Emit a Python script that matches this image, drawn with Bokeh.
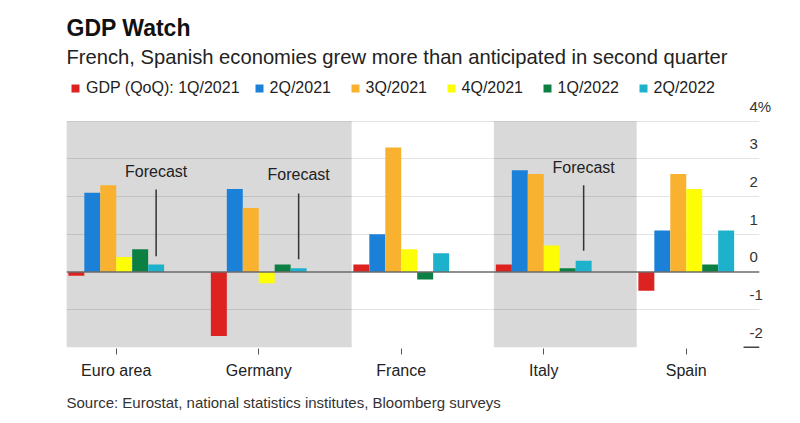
from bokeh.plotting import figure
from bokeh.models import ColumnDataSource, FixedTicker, Span, Legend, LegendItem, Label, Title
from bokeh.transform import dodge
from bokeh.core.properties import value
from bokeh.embed import file_html
from bokeh.resources import INLINE

# ---------------- data ----------------
categories = ["Euro area", "Germany", "France", "Italy", "Spain"]
series_labels = ["GDP (QoQ): 1Q/2021", "2Q/2021", "3Q/2021", "4Q/2021", "1Q/2022", "2Q/2022"]
q1_2021 = [-0.1, -1.7, 0.2, 0.2, -0.5]
q2_2021 = [2.1, 2.2, 1.0, 2.7, 1.1]
q3_2021 = [2.3, 1.7, 3.3, 2.6, 2.6]
q4_2021 = [0.4, -0.3, 0.6, 0.7, 2.2]
q1_2022 = [0.6, 0.2, -0.2, 0.1, 0.2]
q2_2022 = [0.2, 0.1, 0.5, 0.3, 1.1]
shaded_groups = ["Euro area", "Germany", "Italy"]
forecast_groups = ["Euro area", "Germany", "Italy"]
y_ticks = [-2, -1, 0, 1, 2, 3, 4]
y_tick_labels = ["-2", "-1", "0", "1", "2", "3", "4%"]

# ---------------- styles ----------------
colors = ["#dc2320", "#1b80d8", "#f8b22f", "#fdfd06", "#0c8043", "#1db1cb"]
FONT = "Liberation Sans"
bar_w = 0.112
label_shift = 0.4

series = [q1_2021, q2_2021, q3_2021, q4_2021, q1_2022, q2_2022]
keys = ["s%d" % k for k in range(len(series))]
data = {"x": list(range(len(categories))), "cat": categories}
for k, s in zip(keys, series):
    data[k] = s
source = ColumnDataSource(data)

p = figure(frame_width=693, frame_height=340,
           x_range=(-0.349, 4.514), y_range=(-2.03, 6.99),
           y_axis_location="right", toolbar_location=None,
           output_backend="svg", title=None,
           min_border_left=66, min_border_right=26,
           min_border_top=8, min_border_bottom=60)
p.outline_line_color = None
p.background_fill_color = "white"
p.border_fill_color = "white"

# shaded bands
idx = {c: i for i, c in enumerate(categories)}
band_src = ColumnDataSource(dict(
    left=[idx[c] - 0.35 for c in shaded_groups],
    right=[idx[c] + 0.652 for c in shaded_groups],
    bottom=[y_ticks[0]] * len(shaded_groups),
    top=[y_ticks[-1]] * len(shaded_groups)))
p.quad(left="left", right="right", bottom="bottom", top="top", source=band_src,
       fill_color="#d9d9d9", line_color=None, level="image")

# grid
p.xgrid.visible = False
p.ygrid.ticker = FixedTicker(ticks=[t for t in y_ticks if t not in (0, y_ticks[0])])
p.ygrid.grid_line_color = "black"
p.ygrid.grid_line_alpha = 0.11
p.ygrid.grid_line_width = 1

# bars
renderers = []
n = len(series)
for k, key in enumerate(keys):
    off = (k - (n - 1) / 2) * bar_w
    r = p.vbar(x=dodge("x", off, range=p.x_range), top=key, bottom=0, width=bar_w,
               source=source, fill_color=colors[k], line_color=None)
    renderers.append(r)

# zero line
p.add_layout(Span(location=0, dimension="width", line_color="#6a6a6a", line_width=1.5))

# short mark at bottom of scale
p.segment(x0=[p.x_range.end - 0.112], x1=[p.x_range.end], y0=[y_ticks[0]], y1=[y_ticks[0]],
          line_color="#444", line_width=1.5)

# forecast annotations
cyan_off = (n - 1 - (n - 1) / 2) * bar_w
fx = [idx[c] + cyan_off for c in forecast_groups]
f_text_y = [2.67, 2.58, 2.78]
f_line_top = [2.19, 2.08, 2.30]
f_line_bot = [0.42, 0.34, 0.56]
p.segment(x0=fx, x1=fx, y0=f_line_bot, y1=f_line_top, line_color="#333", line_width=1.5)
p.text(x=fx, y=f_text_y, text=["Forecast"] * len(fx), text_align="center",
       text_baseline="middle", text_font=value(FONT), text_font_size="16px",
       text_color="#222")

# x axis
p.xaxis.ticker = FixedTicker(ticks=list(range(len(categories))))
p.xaxis.major_label_overrides = {i: c for i, c in enumerate(categories)}
p.xaxis.axis_line_color = None
p.xaxis.major_tick_line_color = "#555"
p.xaxis.major_tick_out = 6
p.xaxis.major_tick_in = 0
p.xaxis.minor_tick_line_color = None
p.xaxis.major_label_text_font = FONT
p.xaxis.major_label_text_font_size = "16px"
p.xaxis.major_label_text_color = "#222"
p.xaxis.major_label_standoff = 7

# y axis (right), labels sit above gridlines
label_pos = [t + label_shift for t in y_ticks]
p.yaxis.ticker = FixedTicker(ticks=label_pos)
p.yaxis.major_label_overrides = {pos: lab for pos, lab in zip(label_pos, y_tick_labels)}
p.yaxis.axis_line_color = None
p.yaxis.major_tick_line_color = None
p.yaxis.minor_tick_line_color = None
p.yaxis.major_tick_out = 0
p.yaxis.major_tick_in = 0
p.yaxis.major_label_standoff = -10
p.yaxis.major_label_text_font = FONT
p.yaxis.major_label_text_font_size = "15px"
p.yaxis.major_label_text_color = "#333"

# legend
legend = Legend(items=[LegendItem(label=lab, renderers=[r]) for lab, r in zip(series_labels, renderers)],
                orientation="horizontal", location=(4, 250),
                glyph_width=10, glyph_height=10, label_standoff=6, spacing=14,
                padding=0, margin=0, border_line_color=None, background_fill_alpha=0,
                label_text_font=FONT, label_text_font_size="16px", label_text_color="#222",
                label_height=20, label_width=66)
p.add_layout(legend)

# titles
p.add_layout(Label(x=0, y=321, x_units="screen", y_units="screen", text="GDP Watch",
                   text_font=FONT, text_font_size="23px", text_font_style="bold",
                   text_color="#111", text_baseline="alphabetic"))
p.add_layout(Label(x=0, y=292, x_units="screen", y_units="screen",
                   text="French, Spanish economies grew more than anticipated in second quarter",
                   text_font=FONT, text_font_size="20.2px", text_color="#222",
                   text_baseline="alphabetic"))

# source note
p.add_layout(Title(text="Source: Eurostat, national statistics institutes, Bloomberg surveys",
                   align="left", text_font=FONT, text_font_size="15px",
                   text_font_style="normal", text_color="#333", standoff=20), "below")

open("out.html", "w").write(file_html(p, INLINE))
